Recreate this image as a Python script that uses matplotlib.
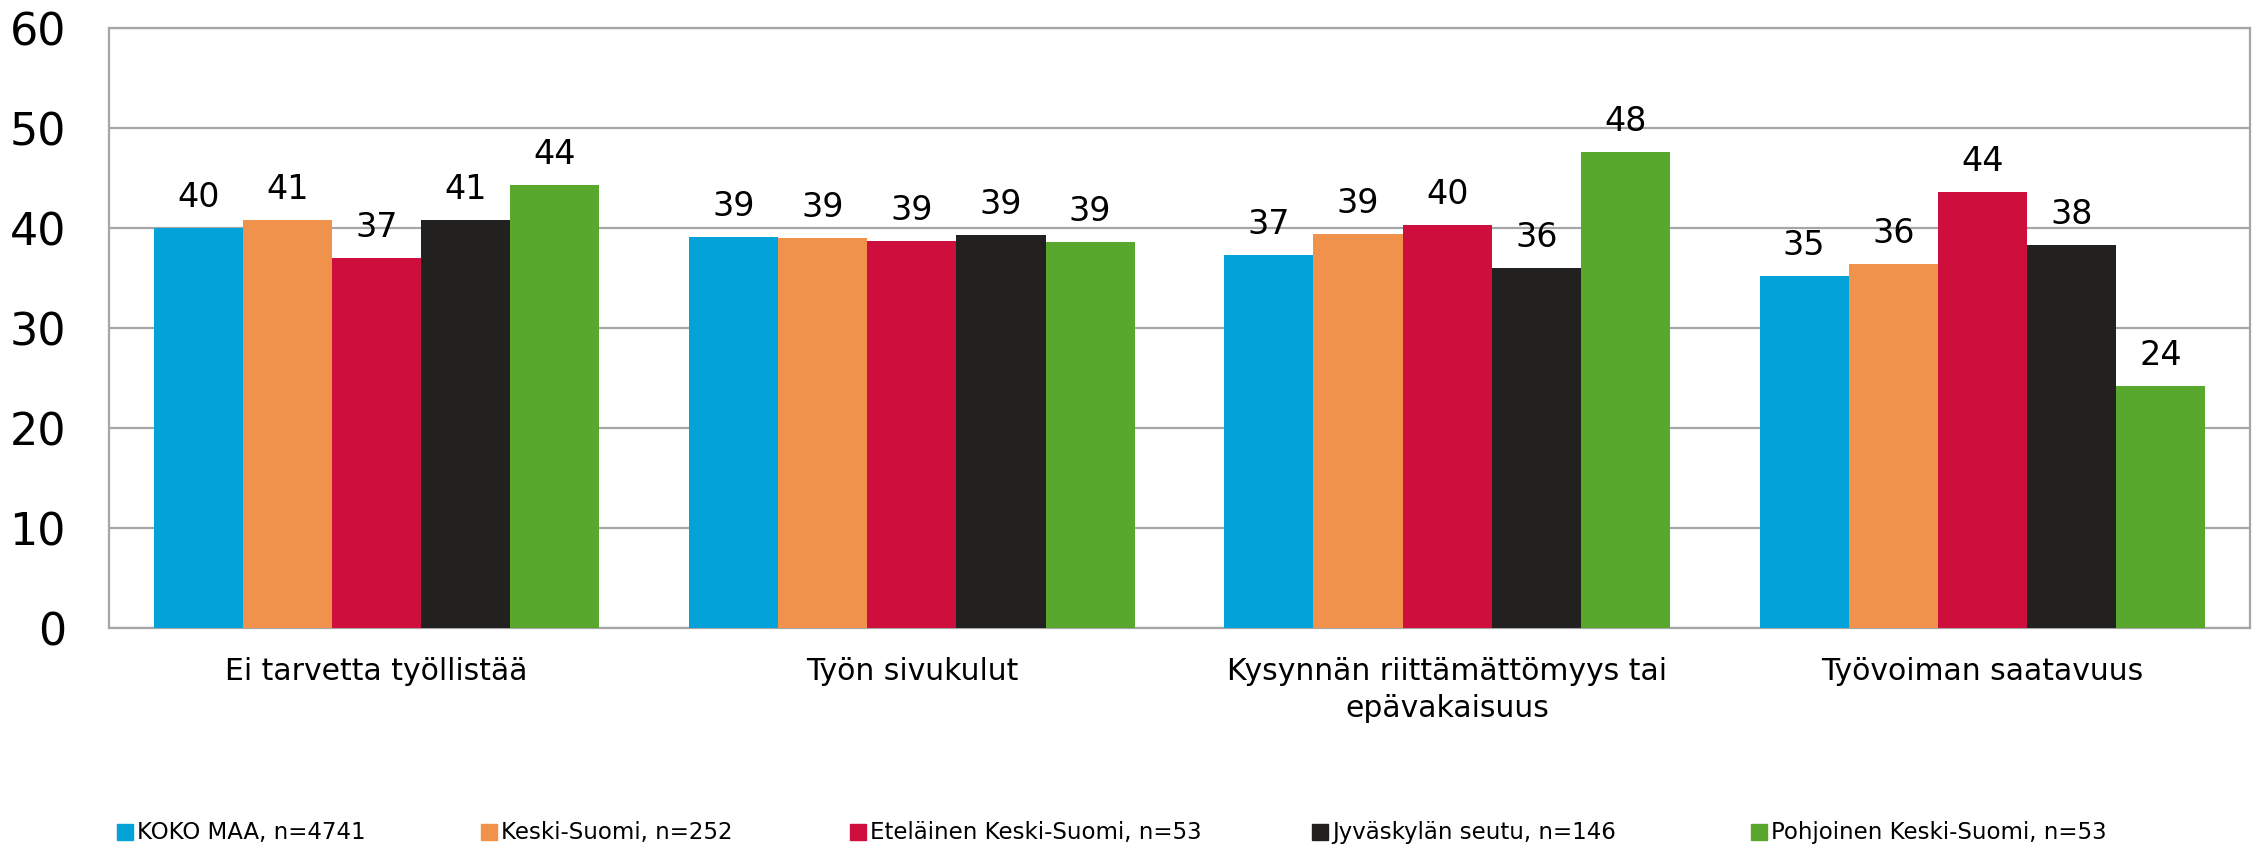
import matplotlib
matplotlib.use("Agg")
import matplotlib.pyplot as plt
from matplotlib.patches import Rectangle
import numpy as np

categories = ["Ei tarvetta työllistää", "Työn sivukulut",
              "Kysynnän riittämättömyys tai\nepävakaisuus", "Työvoiman saatavuus"]
series_names = ["KOKO MAA, n=4741", "Keski-Suomi, n=252", "Eteläinen Keski-Suomi, n=53",
                "Jyväskylän seutu, n=146", "Pohjoinen Keski-Suomi, n=53"]
koko_maa = [40.0, 39.1, 37.3, 35.2]
keski_suomi = [40.8, 39.0, 39.4, 36.4]
etelainen = [37.0, 38.7, 40.3, 43.6]
jyvaskyla = [40.8, 39.3, 36.0, 38.3]
pohjoinen = [44.3, 38.6, 47.6, 24.2]
series_values = [koko_maa, keski_suomi, etelainen, jyvaskyla, pohjoinen]
colors = ["#03A3D9", "#F0914C", "#CE0F3E", "#222120", "#58A82D"]
yticks = [0, 10, 20, 30, 40, 50, 60]

W, H = 2257, 849
fig = plt.figure(figsize=(W / 100, H / 100), dpi=100)
ax = fig.add_axes([109 / W, 1 - 628 / H, (2250 - 109) / W, (628 - 28) / H])

n = len(series_values)
bw = 0.1665
x = np.arange(len(categories))
for i, (vals, c) in enumerate(zip(series_values, colors)):
    pos = x + (i - (n - 1) / 2) * bw
    bars = ax.bar(pos, vals, width=bw, color=c, zorder=3, linewidth=0)
    for b, v in zip(bars, vals):
        ax.annotate(f"{v:.0f}", (b.get_x() + b.get_width() / 2, v),
                    xytext=(0, 10), textcoords="offset points",
                    ha="center", va="bottom", fontsize=24, color="black")

ax.set_xlim(-0.5, len(categories) - 0.5)
ax.set_ylim(0, 60)
ax.set_yticks(yticks)
ax.set_yticklabels([str(t) for t in yticks], fontsize=32)
ax.set_xticks(x)
ax.set_xticklabels(categories, fontsize=21.5, linespacing=1.35)
ax.tick_params(axis="y", length=0, pad=31)
ax.tick_params(axis="x", length=0, pad=21)
ax.yaxis.grid(True, color="#a6a6a6", linewidth=1.6, zorder=0)
for s in ax.spines.values():
    s.set_color("#a6a6a6")
    s.set_linewidth(1.6)

# legend, placed manually in figure pixels
leg_x = [125, 489, 858, 1320, 1759]
leg_y = 832
for lx, name, c in zip(leg_x, series_names, colors):
    fig.patches.append(Rectangle(((lx - 8) / W, 1 - (leg_y + 8) / H), 16 / W, 16 / H,
                                 transform=fig.transFigure, color=c, figure=fig))
    fig.text((lx + 12) / W, 1 - leg_y / H, name, fontsize=16.5, va="center", ha="left")

fig.savefig("out.png", dpi=100, facecolor="white")
